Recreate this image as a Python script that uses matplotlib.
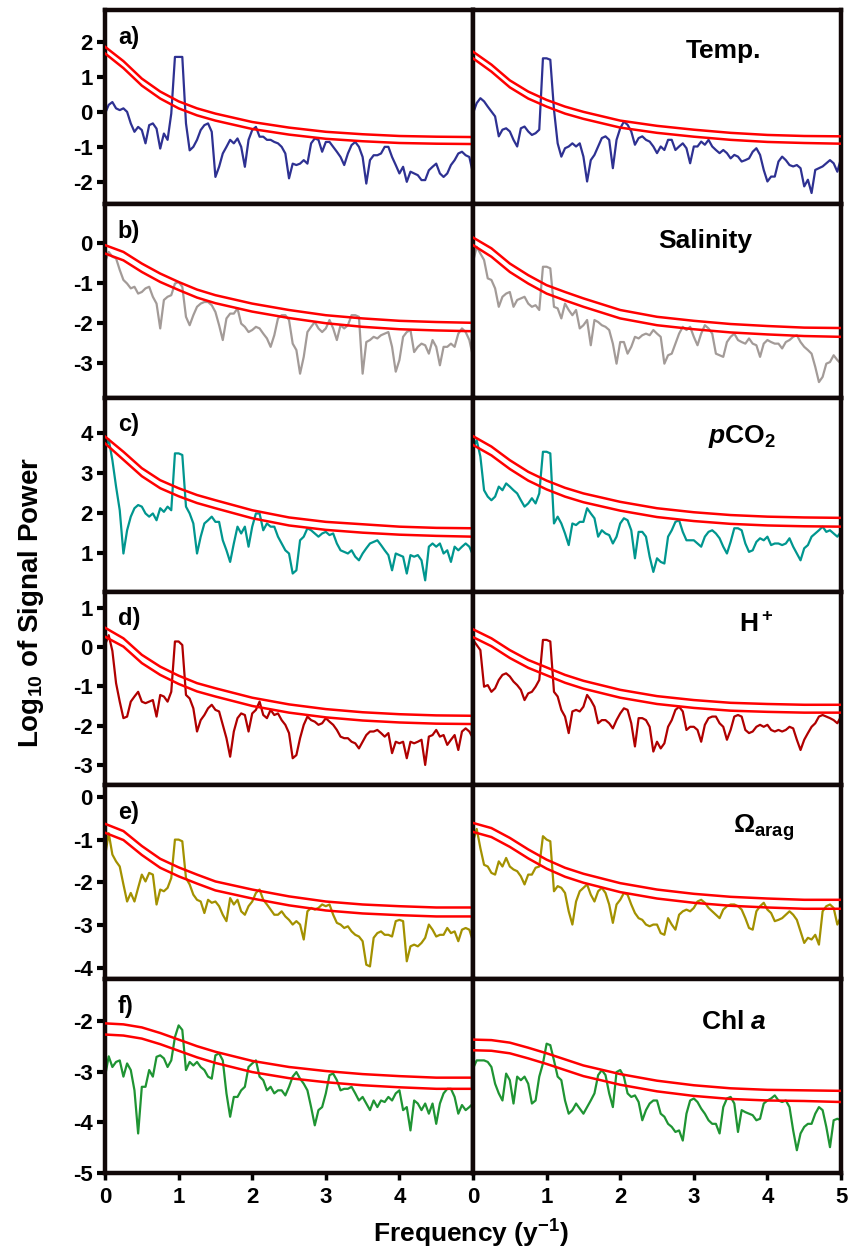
import numpy as np
import matplotlib
matplotlib.use('Agg')
import matplotlib.pyplot as plt

plt.rcParams['font.family'] = ['Liberation Sans', 'DejaVu Sans']
plt.rcParams['font.weight'] = 'bold'
plt.rcParams['axes.unicode_minus'] = False
plt.rcParams['mathtext.fontset'] = 'custom'
plt.rcParams['mathtext.rm'] = 'Liberation Sans:bold'
plt.rcParams['mathtext.bf'] = 'Liberation Sans:bold'
plt.rcParams['mathtext.it'] = 'Liberation Sans:italic:bold'

# frequency grid of the spectra (y^-1)
freq = np.linspace(0, 5, 101)
# frequencies where the red-noise confidence curves were read
red_f = [0, 0.25, 0.5, 0.75, 1, 1.25, 1.5, 2, 2.5, 3, 3.5, 4, 4.5, 5]

letters = ['a)', 'b)', 'c)', 'd)', 'e)', 'f)']
names = ['Temp.', 'Salinity', '$\\it{p}$CO$_2$', 'H$^+$', '$\\Omega_{\\mathrm{arag}}$', 'Chl $\\it{a}$']
colors = ['#2e3192', '#a39b98', '#00968f', '#b00000', '#a39100', '#1f9433']
ylims = [(-2.63, 2.91), (-3.87, 0.97), (0.05, 4.89), (-3.52, 1.41), (-4.27, 0.27), (-5.0, -1.18)]
yticks = [[-2, -1, 0, 1, 2], [-3, -2, -1, 0], [1, 2, 3, 4], [-3, -2, -1, 0, 1], [-4, -3, -2, -1, 0], [-5, -4, -3, -2]]

# --- a) Temp.
temp_l = [-0.05, 0.2, 0.28, 0.1, 0.05, 0.1, 0, -0.33, -0.57, -0.43, -0.52, -0.9, -0.38, -0.33, -0.48, -1.05, -0.62, -0.8, -0.05, 1.57,
          1.57, 1.57, -0.33, -1.1, -1.0, -0.8, -0.52, -0.38, -0.33, -0.57, -1.86, -1.57, -1.19, -1.0, -0.8, -0.9, -0.76, -1.0, -1.57, -0.8,
          -0.52, -0.43, -0.71, -0.71, -0.8, -0.8, -0.86, -0.9, -1.0, -1.19, -1.9, -1.48, -1.52, -1.48, -1.38, -1.48, -0.9, -0.76, -0.8, -1.14,
          -0.86, -0.86, -1.0, -1.14, -1.29, -1.52, -1.19, -0.95, -0.86, -1.0, -1.29, -2.05, -1.38, -1.24, -1.24, -1.19, -1.0, -1.0, -1.29, -1.52,
          -1.76, -1.57, -2.0, -1.71, -1.76, -1.81, -1.95, -1.95, -1.67, -1.57, -1.48, -1.76, -1.86, -1.76, -1.52, -1.38, -1.19, -1.14, -1.24, -1.29,
          -1.76]
temp_r = [-0.04, 0.25, 0.39, 0.3, 0.15, 0.01, -0.13, -0.7, -0.51, -0.47, -0.56, -0.8, -0.99, -0.47, -0.42, -0.56, -0.66, -0.61, -0.51, 1.53,
          1.53, 1.49, 0.06, -0.9, -1.28, -1.04, -0.99, -0.9, -0.99, -0.9, -1.28, -1.99, -1.38, -1.23, -0.99, -0.75, -0.7, -0.8, -1.61, -0.8,
          -0.47, -0.28, -0.37, -0.56, -0.94, -0.75, -0.7, -0.8, -0.85, -0.99, -1.18, -0.99, -1.09, -0.8, -0.8, -1.09, -0.99, -0.9, -1.04, -1.47,
          -0.99, -0.99, -0.85, -0.94, -0.8, -0.99, -1.09, -1.18, -1.09, -1.18, -1.33, -1.23, -1.28, -1.42, -1.38, -1.33, -1.14, -1.04, -1.23, -1.66,
          -1.99, -1.85, -1.85, -1.42, -1.28, -1.38, -1.52, -1.56, -1.52, -1.61, -2.13, -1.94, -2.32, -1.66, -1.61, -1.56, -1.47, -1.38, -1.47, -1.71,
          -1.33]
temp_hi_l = [1.86, 1.45, 0.95, 0.58, 0.30, 0.10, -0.05, -0.29, -0.45, -0.57, -0.64, -0.69, -0.71, -0.72]
temp_lo_l = [1.67, 1.25, 0.75, 0.38, 0.1, -0.1, -0.25, -0.49, -0.65, -0.77, -0.84, -0.89, -0.91, -0.92]
temp_hi_r = [1.72, 1.35, 0.90, 0.58, 0.34, 0.15, 0.0, -0.25, -0.40, -0.51, -0.60, -0.66, -0.69, -0.70]
temp_lo_r = [1.53, 1.15, 0.70, 0.38, 0.15, -0.05, -0.2, -0.45, -0.6, -0.71, -0.8, -0.86, -0.89, -0.91]

# --- b) Salinity
sal_l = [-0.48, -0.23, -0.35, -0.39, -0.68, -0.93, -1.02, -1.14, -1.1, -1.27, -1.23, -1.14, -1.1, -1.35, -1.52, -2.14, -1.43, -1.35, -1.31, -1.02,
         -0.98, -1.1, -1.85, -2.06, -1.81, -1.6, -1.52, -1.48, -1.48, -1.56, -1.73, -2.06, -2.43, -1.89, -1.77, -1.77, -1.64, -2.02, -2.1, -2.23,
         -2.18, -2.1, -2.14, -2.27, -2.39, -2.6, -2.31, -1.89, -1.81, -1.81, -1.93, -2.52, -2.68, -3.27, -2.85, -2.23, -2.1, -1.98, -2.14, -2.23,
         -2.14, -1.93, -2.14, -2.43, -2.06, -2.14, -2.06, -1.81, -1.81, -1.85, -3.27, -2.48, -2.43, -2.35, -2.39, -2.31, -2.27, -2.23, -2.6, -3.22,
         -2.93, -2.35, -2.23, -2.18, -2.73, -2.6, -2.52, -2.56, -2.77, -2.43, -2.6, -3.06, -2.6, -2.6, -2.52, -2.6, -2.27, -2.14, -2.23, -2.43,
         -2.85]
sal_r = [-0.48, -0.1, -0.27, -0.43, -0.89, -0.93, -1.14, -1.6, -1.35, -1.27, -1.23, -1.6, -1.43, -1.39, -1.35, -1.52, -1.6, -1.56, -1.68, -0.6,
         -0.6, -0.64, -1.6, -1.64, -1.89, -1.52, -1.68, -1.81, -1.68, -2.14, -2.06, -1.93, -2.56, -1.93, -1.98, -2.06, -2.1, -2.18, -2.52, -3.02,
         -2.48, -2.48, -2.77, -2.6, -2.35, -2.39, -2.31, -2.27, -2.31, -2.18, -2.27, -2.35, -3.02, -2.81, -2.77, -2.52, -2.27, -2.1, -2.18, -2.1,
         -2.35, -2.56, -2.27, -2.06, -2.14, -2.27, -2.77, -2.81, -2.85, -2.48, -2.35, -2.27, -2.43, -2.48, -2.52, -2.39, -2.52, -2.56, -2.85, -2.52,
         -2.43, -2.48, -2.52, -2.52, -2.64, -2.48, -2.43, -2.35, -2.31, -2.48, -2.6, -2.68, -2.77, -3.1, -3.48, -3.35, -3.02, -2.98, -2.81, -2.93,
         -3.02]
sal_hi_l = [-0.06, -0.23, -0.52, -0.77, -0.98, -1.17, -1.31, -1.52, -1.68, -1.81, -1.89, -1.95, -1.98, -2.0]
sal_lo_l = [-0.27, -0.44, -0.73, -0.98, -1.18, -1.37, -1.51, -1.72, -1.88, -2.01, -2.1, -2.16, -2.19, -2.21]
sal_hi_r = [0.13, -0.14, -0.52, -0.81, -1.06, -1.23, -1.39, -1.68, -1.85, -1.95, -2.03, -2.08, -2.12, -2.13]
sal_lo_r = [-0.06, -0.35, -0.73, -1.02, -1.27, -1.44, -1.6, -1.89, -2.06, -2.16, -2.24, -2.29, -2.33, -2.35]

# --- c) pCO2
pco2_l = [3.58, 3.85, 3.33, 2.67, 2.08, 1.0, 1.58, 1.92, 2.13, 2.21, 2.17, 2.0, 1.92, 2.0, 1.83, 2.13, 2.04, 2.17, 2.08, 3.5,
          3.5, 3.46, 2.17, 2.0, 1.75, 1.0, 1.42, 1.75, 1.83, 1.92, 1.79, 1.79, 1.33, 1.08, 0.79, 1.25, 1.67, 1.5, 1.67, 1.17,
          1.67, 2.0, 2.0, 1.58, 1.75, 1.67, 1.67, 1.42, 1.25, 1.08, 1.0, 0.5, 0.58, 1.33, 1.42, 1.63, 1.58, 1.5, 1.42, 1.5,
          1.54, 1.46, 1.5, 1.25, 1.08, 1.04, 1.0, 1.08, 0.92, 0.83, 1.0, 1.13, 1.25, 1.29, 1.33, 1.21, 1.08, 0.96, 0.58, 1.0,
          0.96, 0.92, 0.5, 0.96, 0.92, 0.96, 0.83, 0.33, 1.17, 1.25, 1.17, 1.25, 1.0, 1.08, 0.79, 1.17, 1.08, 1.17, 1.25, 1.17,
          0.96]
pco2_r = [3.63, 3.83, 3.42, 2.58, 2.42, 2.33, 2.42, 2.67, 2.58, 2.75, 2.67, 2.58, 2.5, 2.33, 2.17, 2.25, 2.38, 2.25, 2.5, 3.54,
          3.54, 3.5, 1.75, 1.92, 1.75, 1.5, 1.21, 1.75, 1.71, 1.79, 1.79, 2.13, 2.0, 1.88, 1.42, 1.58, 1.5, 1.46, 1.25, 1.42,
          1.75, 1.88, 1.83, 1.58, 0.88, 1.54, 1.54, 1.42, 0.92, 0.54, 0.88, 0.79, 0.75, 1.42, 1.58, 1.79, 1.83, 1.54, 1.33, 1.33,
          1.33, 1.25, 1.17, 1.42, 1.54, 1.58, 1.5, 1.38, 1.17, 1.0, 1.29, 1.63, 1.63, 1.58, 1.25, 1.04, 1.08, 1.29, 1.38, 1.33,
          1.42, 1.21, 1.25, 1.25, 1.21, 1.25, 1.38, 1.17, 1.0, 0.83, 1.13, 1.21, 1.42, 1.5, 1.58, 1.67, 1.54, 1.58, 1.5, 1.42,
          1.54]
pco2_hi_l = [3.92, 3.54, 3.13, 2.83, 2.63, 2.46, 2.33, 2.08, 1.9, 1.79, 1.73, 1.67, 1.64, 1.63]
pco2_lo_l = [3.75, 3.34, 2.93, 2.63, 2.43, 2.26, 2.13, 1.88, 1.7, 1.59, 1.52, 1.47, 1.44, 1.42]
pco2_hi_r = [3.93, 3.67, 3.33, 3.04, 2.82, 2.64, 2.5, 2.29, 2.13, 2.03, 1.96, 1.92, 1.9, 1.89]
pco2_lo_r = [3.71, 3.45, 3.11, 2.82, 2.6, 2.42, 2.28, 2.07, 1.91, 1.81, 1.74, 1.7, 1.68, 1.67]

# --- d) H+
hplus_l = [0.05, 0.3, -0.1, -0.92, -1.39, -1.81, -1.77, -1.39, -1.26, -1.14, -1.39, -1.43, -1.39, -1.35, -1.77, -1.22, -1.26, -1.39, -1.14, 0.14,
           0.14, 0.05, -1.22, -1.31, -1.56, -2.15, -1.86, -1.73, -1.56, -1.47, -1.6, -1.64, -1.98, -2.32, -2.79, -2.15, -1.81, -1.69, -1.73, -2.15,
           -1.69, -1.6, -1.39, -1.73, -1.81, -1.6, -1.73, -1.69, -1.86, -1.98, -2.19, -2.83, -2.75, -2.32, -1.98, -1.77, -1.86, -1.9, -1.98, -1.94,
           -1.81, -1.9, -1.98, -2.11, -2.28, -2.32, -2.32, -2.41, -2.45, -2.58, -2.41, -2.24, -2.15, -2.15, -2.11, -2.19, -2.28, -2.19, -2.7, -2.41,
           -2.45, -2.41, -2.83, -2.41, -2.45, -2.41, -2.36, -3.0, -2.28, -2.24, -2.11, -2.28, -2.24, -2.49, -2.36, -2.24, -2.62, -2.15, -2.07, -2.15,
           -2.32]
hplus_r = [0.18, 0.05, -0.08, -1.01, -0.97, -1.14, -1.05, -0.84, -0.71, -0.67, -0.75, -0.88, -0.97, -1.09, -1.35, -1.18, -1.14, -1.01, -0.84, 0.18,
           0.18, 0.14, -1.14, -1.26, -1.6, -1.77, -2.19, -1.64, -1.6, -1.64, -1.52, -1.22, -1.35, -1.52, -1.94, -1.86, -1.86, -1.94, -2.07, -1.86,
           -1.69, -1.56, -1.6, -1.94, -2.53, -1.81, -1.81, -1.86, -2.03, -2.66, -2.41, -2.58, -2.45, -2.03, -1.86, -1.6, -1.52, -1.64, -2.11, -2.03,
           -2.03, -2.11, -2.41, -1.98, -1.81, -1.77, -1.77, -1.94, -2.03, -2.36, -2.11, -1.77, -1.73, -1.77, -2.11, -2.19, -2.15, -2.03, -1.98, -2.03,
           -1.98, -2.11, -2.15, -2.11, -2.15, -2.11, -2.03, -2.07, -2.36, -2.62, -2.36, -2.19, -2.03, -1.94, -1.77, -1.73, -1.77, -1.81, -1.86, -1.94,
           -1.77]
hplus_hi_l = [0.49, 0.22, -0.2, -0.5, -0.73, -0.92, -1.05, -1.29, -1.46, -1.58, -1.66, -1.71, -1.74, -1.75]
hplus_lo_l = [0.26, 0.01, -0.41, -0.71, -0.94, -1.13, -1.26, -1.5, -1.67, -1.79, -1.87, -1.92, -1.95, -1.96]
hplus_hi_r = [0.45, 0.22, -0.08, -0.33, -0.52, -0.71, -0.86, -1.09, -1.25, -1.35, -1.42, -1.45, -1.47, -1.47]
hplus_lo_r = [0.25, 0.02, -0.28, -0.53, -0.72, -0.91, -1.06, -1.29, -1.45, -1.55, -1.62, -1.65, -1.67, -1.67]

# --- e) Omega arag
omega_l = [-1.39, -0.85, -1.35, -1.51, -1.63, -2.05, -2.45, -2.25, -2.45, -2.13, -1.82, -1.98, -1.78, -1.82, -2.52, -2.17, -2.21, -2.13, -1.9, -1.0,
           -1.0, -1.04, -1.9, -2.05, -2.29, -2.41, -2.45, -2.72, -2.41, -2.48, -2.45, -2.56, -2.76, -2.91, -2.37, -2.52, -2.41, -2.68, -2.76, -2.56,
           -2.45, -2.25, -2.17, -2.41, -2.52, -2.64, -2.76, -2.76, -2.68, -2.8, -2.88, -2.99, -2.91, -2.99, -3.34, -2.68, -2.6, -2.64, -2.6, -2.52,
           -2.56, -2.52, -2.76, -2.95, -2.99, -3.07, -3.03, -3.15, -3.23, -3.27, -3.38, -3.93, -3.97, -3.3, -3.19, -3.15, -3.23, -3.23, -3.27, -2.91,
           -2.88, -2.91, -3.85, -3.5, -3.46, -3.5, -3.42, -3.3, -2.99, -3.11, -3.27, -3.23, -3.23, -3.07, -3.19, -3.15, -3.38, -3.11, -3.07, -3.11,
           -3.38]
omega_r = [-1.04, -0.75, -1.2, -1.59, -1.63, -1.78, -1.82, -1.51, -1.63, -1.43, -1.63, -1.7, -1.74, -1.86, -2.05, -1.82, -1.82, -1.66, -1.63, -0.92,
           -1.0, -1.04, -2.21, -2.09, -2.13, -2.25, -2.68, -2.99, -2.45, -2.21, -2.13, -2.05, -2.29, -2.45, -2.21, -2.13, -2.25, -2.52, -2.95, -2.52,
           -2.41, -2.25, -2.29, -2.52, -2.72, -2.84, -2.88, -2.99, -3.03, -2.99, -2.99, -3.19, -3.23, -2.84, -2.99, -3.11, -2.76, -2.68, -2.64, -2.68,
           -2.6, -2.45, -2.41, -2.48, -2.6, -2.68, -2.76, -2.84, -2.64, -2.56, -2.52, -2.52, -2.56, -2.64, -2.84, -3.07, -3.11, -2.68, -2.56, -2.48,
           -2.64, -2.72, -2.91, -2.88, -2.84, -2.76, -2.68, -2.76, -2.88, -3.15, -3.42, -3.3, -3.34, -3.23, -3.46, -2.68, -2.56, -2.52, -2.6, -2.99,
           -2.8]
omega_hi_l = [-0.63, -0.8, -1.15, -1.45, -1.65, -1.82, -1.98, -2.17, -2.33, -2.45, -2.52, -2.56, -2.59, -2.59]
omega_lo_l = [-0.84, -1.01, -1.36, -1.66, -1.86, -2.03, -2.19, -2.38, -2.54, -2.66, -2.73, -2.77, -2.8, -2.8]
omega_hi_r = [-0.61, -0.73, -0.96, -1.23, -1.47, -1.66, -1.8, -2.02, -2.17, -2.27, -2.34, -2.38, -2.41, -2.41]
omega_lo_r = [-0.82, -0.94, -1.17, -1.44, -1.68, -1.87, -2.01, -2.23, -2.38, -2.48, -2.55, -2.59, -2.62, -2.62]

# --- f) Chl a
chl_l = [-3.1, -2.7, -2.91, -2.81, -2.78, -3.1, -2.84, -2.97, -3.37, -4.22, -3.3, -3.3, -2.97, -3.1, -2.71, -2.68, -2.74, -2.91, -2.78, -2.32,
         -2.09, -2.18, -2.97, -2.81, -2.88, -2.81, -2.91, -2.97, -3.1, -3.14, -2.68, -2.64, -2.78, -3.43, -3.89, -3.5, -3.5, -3.37, -3.3, -2.91,
         -2.84, -2.78, -3.1, -3.17, -3.37, -3.3, -3.43, -3.37, -3.37, -3.47, -3.3, -3.1, -3.01, -3.14, -3.24, -3.37, -3.7, -4.06, -3.76, -3.7,
         -3.43, -3.07, -3.04, -3.17, -3.37, -3.34, -3.34, -3.3, -3.43, -3.57, -3.5, -3.63, -3.76, -3.57, -3.7, -3.57, -3.6, -3.5, -3.57, -3.43,
         -3.37, -3.76, -3.7, -4.16, -3.57, -3.63, -3.76, -3.63, -3.83, -3.63, -4.03, -3.63, -3.43, -3.34, -3.34, -3.5, -3.83, -3.66, -3.76, -3.7,
         -3.63]
chl_r = [-2.94, -2.78, -2.78, -2.78, -2.81, -2.91, -3.24, -3.43, -3.57, -3.04, -3.17, -3.63, -3.1, -3.17, -3.1, -3.24, -3.63, -3.57, -3.1, -2.84,
         -2.45, -2.48, -2.78, -3.1, -3.17, -3.57, -3.83, -3.76, -3.63, -3.73, -3.83, -3.7, -3.57, -3.43, -3.07, -2.97, -3.07, -3.43, -3.7, -3.01,
         -2.97, -3.1, -3.43, -3.5, -3.47, -3.6, -3.96, -3.76, -3.63, -3.57, -3.57, -3.83, -3.89, -4.03, -4.09, -4.19, -4.16, -4.36, -3.83, -3.57,
         -3.53, -3.6, -3.73, -3.83, -3.96, -4.03, -4.03, -4.22, -3.7, -3.53, -3.5, -3.63, -4.19, -3.76, -3.8, -3.83, -3.86, -3.96, -3.93, -3.63,
         -3.57, -3.53, -3.47, -3.57, -3.6, -3.57, -3.7, -4.16, -4.55, -4.22, -4.09, -4.03, -4.03, -3.83, -3.7, -3.76, -4.09, -4.49, -3.96, -3.93,
         -3.96]
chl_hi_l = [-2.05, -2.07, -2.13, -2.24, -2.37, -2.5, -2.61, -2.79, -2.91, -2.99, -3.05, -3.09, -3.12, -3.12]
chl_lo_l = [-2.27, -2.29, -2.35, -2.46, -2.59, -2.72, -2.83, -3.01, -3.13, -3.21, -3.27, -3.31, -3.34, -3.34]
chl_hi_r = [-2.37, -2.38, -2.43, -2.53, -2.64, -2.76, -2.88, -3.05, -3.18, -3.27, -3.33, -3.36, -3.37, -3.38]
chl_lo_r = [-2.58, -2.59, -2.64, -2.74, -2.85, -2.97, -3.09, -3.26, -3.39, -3.48, -3.54, -3.57, -3.58, -3.6]

signals = [(temp_l, temp_r), (sal_l, sal_r), (pco2_l, pco2_r), (hplus_l, hplus_r), (omega_l, omega_r), (chl_l, chl_r)]
limits = [((temp_hi_l, temp_lo_l), (temp_hi_r, temp_lo_r)),
          ((sal_hi_l, sal_lo_l), (sal_hi_r, sal_lo_r)),
          ((pco2_hi_l, pco2_lo_l), (pco2_hi_r, pco2_lo_r)),
          ((hplus_hi_l, hplus_lo_l), (hplus_hi_r, hplus_lo_r)),
          ((omega_hi_l, omega_lo_l), (omega_hi_r, omega_lo_r)),
          ((chl_hi_l, chl_lo_l), (chl_hi_r, chl_lo_r))]
name_pos = [(0.68, 0.79), (0.63, 0.81), (0.73, 0.80), (0.77, 0.83), (0.79, 0.78), (0.71, 0.78)]

fig, axes = plt.subplots(6, 2, figsize=(8.49, 12.55), dpi=100)
fig.subplots_adjust(left=0.1237, right=0.9906, top=0.992, bottom=0.0653, hspace=0, wspace=0)

for i in range(6):
    for j in range(2):
        ax = axes[i, j]
        ax.plot(freq, signals[i][j], color=colors[i], lw=1.6, zorder=2)
        hi, lo = limits[i][j]
        ax.plot(red_f, hi, color='#ff0000', lw=1.8, zorder=3)
        ax.plot(red_f, lo, color='#ff0000', lw=1.8, zorder=3)
        ax.set_xlim(0, 5)
        ax.set_ylim(*ylims[i])
        for s in ax.spines.values():
            s.set_linewidth(3.2)
            s.set_color('#110808')
        ax.set_yticks(yticks[i])
        if j == 0:
            ax.tick_params(axis='y', direction='out', length=6, width=3, labelsize=16, pad=3)
            ax.text(0.035, 0.86, letters[i], transform=ax.transAxes, fontsize=17,
                    fontweight='bold', ha='left', va='center')
        else:
            ax.tick_params(axis='y', length=0, labelleft=False)
            ax.text(name_pos[i][0], name_pos[i][1], names[i], transform=ax.transAxes,
                    fontsize=19, fontweight='bold', ha='center', va='center')
        if i == 5:
            ax.set_xticks([0, 1, 2, 3, 4] if j == 0 else [0, 1, 2, 3, 4, 5])
            ax.tick_params(axis='x', direction='out', length=5, width=2.5, labelsize=16, pad=5)
        else:
            ax.set_xticks([])

fig.text(0.036, 0.52, 'Log$_{10}$ of Signal Power', rotation=90, fontsize=20,
         fontweight='bold', ha='center', va='center')
fig.text(0.555, 0.017, 'Frequency (y$^{-1}$)', fontsize=19, fontweight='bold',
         ha='center', va='center')

fig.savefig('out.png', dpi=100)
